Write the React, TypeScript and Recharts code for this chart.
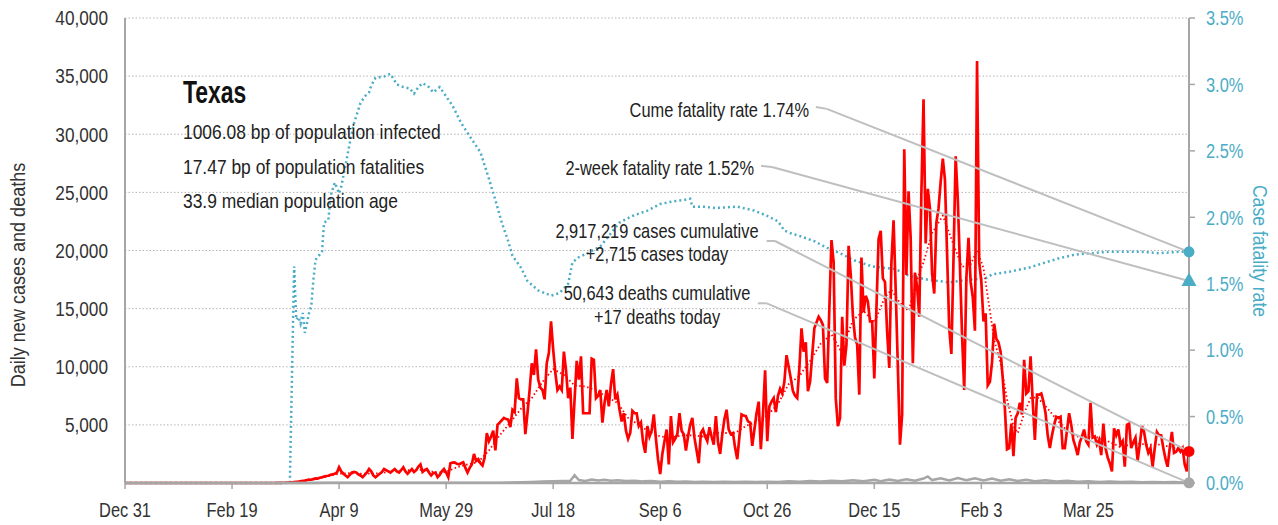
import React from "react"
import {
  LineChart,
  Line,
  XAxis,
  YAxis,
  CartesianGrid,
  ReferenceLine,
  ReferenceDot,
} from "recharts"

// day 0 = Dec 31, 2019
const dateTicks = [0, 50, 100, 150, 200, 250, 300, 350, 400, 450]
const dateLabels = ["Dec 31", "Feb 19", "Apr 9", "May 29", "Jul 18", "Sep 6", "Oct 26", "Dec 15", "Feb 3", "Mar 25"]
const caseTicks = [5000, 10000, 15000, 20000, 25000, 30000, 35000, 40000]
const rateTicks = [0, 0.5, 1, 1.5, 2, 2.5, 3, 3.5]

// daily new cases, one value per day from day 0
const dailyCases = [
  0, 0, 0, 0, 0, 0, 0, 0, 0, 0,
  0, 0, 0, 0, 0, 0, 0, 0, 0, 0,
  0, 0, 0, 0, 0, 0, 0, 0, 0, 0,
  0, 0, 0, 0, 0, 0, 0, 0, 0, 0,
  0, 0, 0, 0, 0, 0, 0, 0, 0, 0,
  0, 0, 0, 0, 0, 0, 0, 0, 0, 0,
  0, 0, 0, 0, 0, 0, 0, 0, 0, 0,
  0, 5, 10, 15, 20, 20, 30, 40, 60, 80,
  100, 120, 150, 180, 200, 250, 300, 280, 350, 400,
  380, 450, 500, 550, 600, 620, 700, 750, 800, 900,
  1350, 1000, 800, 650, 500, 700, 900, 950, 900, 750,
  650, 500, 700, 900, 1200, 1000, 650, 500, 650, 800,
  950, 1200, 1100, 1000, 900, 1050, 1200, 1000, 900, 1100,
  1350, 1000, 800, 1000, 1200, 950, 1100, 1400, 1600, 950,
  1100, 1200, 900, 650, 850, 900, 500, 700, 1000, 1200,
  900, 500, 1700, 1750, 1780, 1650, 1600, 1700, 1780, 1300,
  900, 1300, 1600, 2500, 1900, 2050, 1700, 1500, 2200, 4300,
  3600, 4000, 4500, 2800, 5000, 5200, 5400, 5600, 5500, 5450,
  4800, 6300, 6100, 9000, 7300, 7200, 7200, 4200, 6000, 8000,
  10300, 9300, 11500, 8900, 8200, 8000, 7200, 10300, 11200, 13900,
  11500, 9500, 8000, 8300, 8000, 11300, 9700, 7300, 8200, 3800,
  7200, 10500, 8900, 10900, 6000, 6000, 6000, 6000, 10700, 10600,
  7300, 7500, 8000, 5200, 6900, 8000, 6600, 8500, 9800, 7200,
  7600, 6300, 5300, 6000, 4500, 3800, 4300, 6200, 6000, 6000,
  4900, 5200, 3500, 2600, 4900, 4000, 4500, 5900, 3800, 2000,
  770, 2500, 3600, 4600, 1600, 5750, 3500, 3800, 4200, 6000,
  4500, 4200, 2800, 4000, 5000, 5600, 3900, 2800, 1700, 4300,
  4600, 4000, 3600, 4800, 4000, 3300, 5750, 3500, 2500, 4200,
  5500, 6300, 4600, 4200, 4300, 3000, 2050, 4000, 5900, 5800,
  5750, 5300, 5200, 3200, 4600, 6000, 7000, 2900, 5900, 9700,
  3600, 6600, 7000, 7300, 6100, 7500, 8100, 7700, 8700, 11000,
  10000, 9000, 7900, 7500, 7300, 9900, 13300, 11300, 12100, 7900,
  8700, 11000, 13300, 13800, 14300, 14000, 13600, 9000, 8600, 15000,
  20900, 19000, 7300, 4900, 5600, 14300, 10100, 11900, 20400, 17900,
  14400, 12500, 11900, 7600, 19400, 14700, 16100, 15600, 13900, 13900,
  9000, 15000, 21000, 21700, 17600, 17300, 13000, 9900, 19000, 22600,
  16600, 10000, 3300, 5900, 28700, 17900, 25100, 21000, 10300, 18100,
  16900, 14300, 25000, 33000, 20600, 25300, 23600, 18000, 16300, 22400,
  23600, 25900, 27900, 26100, 19700, 13300, 11100, 19300, 28100, 24400,
  18700, 12700, 8000, 17600, 21100, 17300, 16000, 13100, 36300, 19000,
  17300, 13900, 14600, 8400, 8700, 10400, 13700, 12400, 12100, 11300,
  9000, 6400, 2900, 3000, 5100, 2300, 5600, 6000, 6900, 5900,
  10600, 7700, 7900, 10900, 7000, 3700, 7600, 7600, 7700, 7000,
  6000, 4100, 3000, 4100, 5000, 5700, 5600, 5700, 3000, 3000,
  4500, 6000, 5000, 3700, 3100, 2400, 3500, 4000, 4600, 3600,
  3300, 6900, 3900, 4000, 3300, 3700, 2400, 5100, 3000, 2200,
  1700, 1000, 4700, 4100, 4600, 3300, 3600, 1400, 5000, 5100,
  3000, 3500, 3900, 1900, 3300, 4900, 4400, 3300, 2600, 3000,
  1400, 3000, 4400, 4100, 4100, 3000, 2100, 1400, 3000, 4400,
  2600, 2700, 3000, 2700, 3000, 1600, 1000, 2715,
]

// 7-day average of cases, [day, value]
const avgCases = [
  [0, 0], [70, 0], [75, 20], [80, 80], [85, 200], [90, 380], [95, 580], [100, 800],
  [105, 850], [110, 800], [115, 800], [120, 850], [125, 1050], [130, 1100], [135, 1100],
  [140, 1150], [145, 900], [150, 950], [155, 1350], [160, 1600], [165, 1800], [170, 2800],
  [175, 4100], [180, 5200], [185, 6400], [190, 7300], [195, 8700], [200, 9800], [205, 9300],
  [210, 8400], [215, 8300], [220, 8000], [225, 7400], [230, 6900], [235, 5600], [240, 5000],
  [245, 4400], [250, 4000], [255, 3900], [260, 4100], [265, 4100], [270, 4000], [275, 4300],
  [280, 4300], [285, 4300], [290, 4900], [295, 5300], [300, 5800], [305, 6800], [310, 8500],
  [315, 9200], [320, 10500], [325, 12000], [330, 12800], [334, 11500], [338, 13000],
  [340, 14000], [345, 14800], [350, 13800], [355, 16000], [358, 16600], [362, 15500],
  [366, 14800], [370, 17500], [373, 19000], [377, 21500], [382, 23000], [386, 21000],
  [391, 18600], [395, 18800], [398, 20000], [401, 18500], [404, 14800], [406, 12300],
  [409, 10300], [412, 7200], [415, 4900], [417, 4300], [420, 6000], [423, 7300], [426, 7400],
  [431, 6400], [435, 5500], [440, 4500], [446, 3900], [453, 4000], [459, 3600], [465, 3100],
  [472, 3400], [478, 3300], [484, 3300], [490, 3000], [497, 3000],
]

// daily deaths, [day, value]
const dailyDeaths = [
  [0, 0], [78, 0], [85, 5], [95, 15], [105, 25], [115, 30], [125, 30], [135, 30], [145, 25],
  [155, 25], [165, 30], [175, 30], [180, 40], [185, 60], [190, 90], [195, 120], [200, 150],
  [205, 180], [208, 200], [210, 675], [212, 250], [215, 180], [218, 300], [221, 220],
  [224, 280], [227, 200], [230, 240], [234, 170], [238, 200], [242, 140], [246, 180],
  [250, 110], [254, 140], [258, 100], [262, 120], [266, 90], [270, 110], [275, 80], [280, 100],
  [285, 80], [290, 100], [295, 80], [300, 110], [305, 90], [310, 140], [315, 110], [320, 170],
  [325, 120], [330, 200], [335, 150], [340, 230], [345, 160], [350, 270], [353, 150],
  [357, 300], [361, 170], [365, 330], [369, 200], [373, 380], [375, 560], [377, 250],
  [381, 400], [385, 220], [389, 420], [393, 240], [397, 400], [401, 220], [405, 380],
  [409, 200], [413, 330], [417, 180], [421, 280], [425, 160], [430, 240], [435, 130],
  [440, 200], [445, 110], [450, 160], [455, 90], [460, 130], [465, 80], [470, 110], [475, 70],
  [480, 90], [485, 60], [490, 80], [494, 50], [497, 17],
]

// cumulative case fatality rate in %, [day, value]
const fatalityRate = [
  [0, 0], [77, 0], [79, 1.63], [80, 1.23], [81, 1.25], [82, 1.2], [83, 1.28], [84, 1.13],
  [86, 1.28], [87, 1.33], [88, 1.53], [89, 1.68], [92, 1.74], [93, 1.96], [95, 1.98],
  [96, 2.16], [98, 2.26], [100, 2.18], [101, 2.23], [103, 2.39], [105, 2.56], [107, 2.71],
  [110, 2.86], [112, 2.91], [114, 2.94], [115, 2.99], [117, 3.05], [121, 3.06], [124, 3.08],
  [127, 3.0], [130, 2.98], [133, 2.97], [135, 2.93], [137, 2.98], [139, 3.01], [142, 2.98],
  [144, 2.94], [147, 2.98], [150, 2.91], [153, 2.84], [157, 2.71], [161, 2.61], [166, 2.49],
  [170, 2.29], [173, 2.13], [176, 1.96], [179, 1.82], [181, 1.71], [185, 1.62], [188, 1.52],
  [193, 1.45], [199, 1.41], [203, 1.43], [207, 1.5], [209, 1.66], [212, 1.7], [216, 1.73],
  [222, 1.78], [226, 1.86], [231, 1.96], [237, 2.01], [244, 2.05], [250, 2.1], [256, 2.12],
  [261, 2.13], [264, 2.14], [265, 2.08], [270, 2.08], [276, 2.07], [286, 2.08], [294, 2.05],
  [300, 2.01], [305, 1.97], [308, 1.9], [311, 1.88], [315, 1.86], [322, 1.82], [328, 1.77],
  [334, 1.73], [340, 1.68], [349, 1.63], [360, 1.61], [366, 1.56], [375, 1.53], [385, 1.51],
  [394, 1.53], [402, 1.54], [405, 1.57], [413, 1.59], [422, 1.62], [430, 1.66], [436, 1.69],
  [444, 1.72], [452, 1.73], [459, 1.74], [467, 1.74], [475, 1.74], [483, 1.73], [492, 1.74],
  [497, 1.74],
]

const lastDay = 497
const todayCases = 2715
const todayDeaths = 17
const cumeRate = 1.74
const twoWeekRate = 1.52

// no condensed font is installed, so squeeze Liberation Sans horizontally
const FONT = "'Liberation Sans', Arial, sans-serif"
const SQUEEZE = 0.8
const RED = "#ff0000"
const TEAL = "#4bacc6"
const GRAY = "#a6a6a6"
const LEADER = "#bfbfbf"
const INK = "#222"

const casesData = dailyCases.map((value, day) => ({ day, value }))
const toPoints = (rows: number[][]) => rows.map(([day, value]) => ({ day, value }))

type NTextProps = {
  x: number
  y: number
  size?: number
  anchor?: "start" | "middle" | "end"
  fill?: string
  weight?: string
  rotate?: number
  dy?: string
  squeeze?: number
  children: React.ReactNode
}

const NText = ({ x, y, size = 20.5, anchor = "start", fill = INK, weight, rotate = 0, dy, squeeze = SQUEEZE, children }: NTextProps) => (
  <text
    transform={`translate(${x},${y}) rotate(${rotate}) scale(${squeeze},1)`}
    fontFamily={FONT}
    fontSize={size}
    fontWeight={weight}
    textAnchor={anchor}
    fill={fill}
    dy={dy}
  >
    {children}
  </text>
)

const DateTick = (props: any) => {
  const { x, y, payload } = props
  return (
    <NText x={x} y={y} anchor="middle" fill="#333" dy="0.71em">
      {dateLabels[dateTicks.indexOf(payload.value)] ?? ""}
    </NText>
  )
}

const CaseTick = (props: any) => {
  const { x, y, payload } = props
  return (
    <NText x={x} y={y} anchor="end" fill="#333" dy="0.355em" squeeze={0.84}>
      {Number(payload.value).toLocaleString("en-US")}
    </NText>
  )
}

const RateTick = (props: any) => {
  const { x, y, payload } = props
  return (
    <NText x={x} y={y} anchor="start" fill={TEAL} dy="0.355em">
      {`${Number(payload.value).toFixed(1)}%`}
    </NText>
  )
}

const Triangle = (props: any) => {
  const { cx, cy } = props
  return (
    <path
      d={`M${cx},${cy - 8.5} L${cx + 7.5},${cy + 5} L${cx - 7.5},${cy + 5} Z`}
      fill={TEAL}
    />
  )
}

export default function App() {
  return (
    <div style={{ position: "absolute", left: 0, top: 0, width: 1278, height: 525, background: "#fff" }}>
      <LineChart width={1278} height={525} margin={{ top: 18, right: 0, bottom: 0, left: 0 }}>
        <CartesianGrid
          yAxisId="left"
          vertical={false}
          stroke="#b5b5b5"
          strokeDasharray="1.5 2"
        />
        <XAxis
          type="number"
          dataKey="day"
          domain={[0, lastDay]}
          ticks={dateTicks}
          height={42}
          tick={<DateTick />}
          tickSize={6}
          tickMargin={13}
          axisLine={{ stroke: GRAY, strokeWidth: 2.5 }}
          tickLine={{ stroke: GRAY, strokeWidth: 1.5 }}
        />
        <YAxis
          yAxisId="left"
          orientation="left"
          width={125}
          domain={[0, 40000]}
          ticks={caseTicks}
          tick={<CaseTick />}
          tickLine={false}
          tickSize={6}
          tickMargin={11}
          axisLine={{ stroke: GRAY, strokeWidth: 2 }}
        />
        <YAxis
          yAxisId="right"
          orientation="right"
          width={89}
          domain={[0, 3.5]}
          ticks={rateTicks}
          tick={<RateTick />}
          tickSize={6}
          tickMargin={11}
          axisLine={{ stroke: GRAY, strokeWidth: 2 }}
          tickLine={{ stroke: GRAY, strokeWidth: 1.5 }}
        />

        <Line
          yAxisId="right"
          data={toPoints(fatalityRate)}
          dataKey="value"
          stroke={TEAL}
          strokeWidth={2.5}
          strokeDasharray="2 3"
          dot={false}
          isAnimationActive={false}
        />
        <Line
          yAxisId="left"
          data={casesData}
          dataKey="value"
          stroke={RED}
          strokeWidth={2.7}
          dot={false}
          isAnimationActive={false}
        />
        <Line
          yAxisId="left"
          data={toPoints(avgCases)}
          dataKey="value"
          stroke={RED}
          strokeWidth={1.8}
          strokeDasharray="1.5 2.5"
          dot={false}
          isAnimationActive={false}
        />
        <Line
          yAxisId="left"
          data={toPoints(dailyDeaths)}
          dataKey="value"
          stroke={GRAY}
          strokeWidth={2.5}
          dot={false}
          isAnimationActive={false}
        />

        {/* leader lines from the labels to the end markers */}
        <ReferenceLine yAxisId="right" stroke={LEADER} strokeWidth={2}
          segment={[{ x: 322.7, y: 2.83 }, { x: 327.8, y: 2.816 }]} />
        <ReferenceLine yAxisId="right" stroke={LEADER} strokeWidth={2}
          segment={[{ x: 327.8, y: 2.816 }, { x: lastDay, y: cumeRate }]} />
        <ReferenceLine yAxisId="right" stroke={LEADER} strokeWidth={2}
          segment={[{ x: 297.1, y: 2.387 }, { x: 302.2, y: 2.379 }]} />
        <ReferenceLine yAxisId="right" stroke={LEADER} strokeWidth={2}
          segment={[{ x: 302.2, y: 2.379 }, { x: lastDay, y: twoWeekRate }]} />
        <ReferenceLine yAxisId="left" stroke={LEADER} strokeWidth={2}
          segment={[{ x: 299.7, y: 20817 }, { x: 303.6, y: 20817 }]} />
        <ReferenceLine yAxisId="left" stroke={LEADER} strokeWidth={2}
          segment={[{ x: 303.6, y: 20817 }, { x: lastDay, y: todayCases }]} />
        <ReferenceLine yAxisId="left" stroke={LEADER} strokeWidth={2}
          segment={[{ x: 295.6, y: 15458 }, { x: 299.8, y: 15458 }]} />
        <ReferenceLine yAxisId="left" stroke={LEADER} strokeWidth={2}
          segment={[{ x: 299.8, y: 15458 }, { x: lastDay, y: todayDeaths }]} />

        <ReferenceDot yAxisId="right" x={lastDay} y={cumeRate} r={5.5} fill={TEAL} stroke="none" />
        <ReferenceDot yAxisId="right" x={lastDay} y={twoWeekRate} shape={Triangle} />
        <ReferenceDot yAxisId="left" x={lastDay} y={todayCases} r={5.5} fill={RED} stroke="none" />
        <ReferenceDot yAxisId="left" x={lastDay} y={todayDeaths} r={5.5} fill={GRAY} stroke="none" />
      </LineChart>

      <svg
        width={1278}
        height={525}
        style={{ position: "absolute", left: 0, top: 0, pointerEvents: "none" }}
      >
        <NText x={25} y={275} rotate={-90} anchor="middle" fill="#333" squeeze={0.88}>Daily new cases and deaths</NText>
        <NText x={1253} y={251} rotate={90} anchor="middle" fill={TEAL} squeeze={0.86}>Case fatality rate</NText>

        <NText x={183} y={103} size={31} weight="bold" fill="#111" squeeze={0.74}>Texas</NText>
        <NText x={183} y={139} squeeze={0.85}>1006.08 bp of population infected</NText>
        <NText x={183} y={174} squeeze={0.85}>17.47 bp of population fatalities</NText>
        <NText x={183} y={208} squeeze={0.85}>33.9 median population age</NText>

        <NText x={809} y={116.5} anchor="end">Cume fatality rate 1.74%</NText>
        <NText x={754} y={175} anchor="end">2-week fatality rate 1.52%</NText>
        <NText x={657} y={238} anchor="middle">2,917,219 cases cumulative</NText>
        <NText x={657} y={261} anchor="middle">+2,715 cases today</NText>
        <NText x={657} y={300} anchor="middle">50,643 deaths cumulative</NText>
        <NText x={657} y={324} anchor="middle">+17 deaths today</NText>
      </svg>
    </div>
  )
}
